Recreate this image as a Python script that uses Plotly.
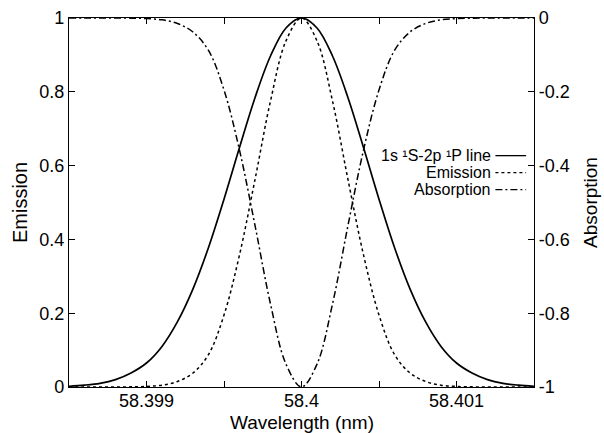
import plotly.graph_objects as go

# Wavelength grid (nm)
wavelength = [58.3985, 58.3986, 58.3987, 58.3988, 58.3989, 58.3990, 58.3991, 58.3992,
              58.3993, 58.3994, 58.3995, 58.3996, 58.3997, 58.3998, 58.3999, 58.4000,
              58.4001, 58.4002, 58.4003, 58.4004, 58.4005, 58.4006, 58.4007, 58.4008,
              58.4009, 58.4010, 58.4011, 58.4012, 58.4013, 58.4014, 58.4015]

# 1s 1S-2p 1P line profile (left axis)
line_profile = [0.002, 0.005, 0.010, 0.020, 0.038, 0.065, 0.110, 0.177, 0.266, 0.378,
                0.509, 0.649, 0.784, 0.897, 0.973, 1.000, 0.973, 0.897, 0.784, 0.649,
                0.509, 0.378, 0.266, 0.177, 0.110, 0.065, 0.038, 0.020, 0.010, 0.005, 0.002]

# Emission profile (left axis)
emission = [0.0, 0.0, 0.0, 0.0001, 0.0004, 0.0015, 0.005, 0.015, 0.038, 0.088,
            0.195, 0.358, 0.562, 0.775, 0.938, 1.0, 0.938, 0.775, 0.562, 0.358,
            0.195, 0.088, 0.038, 0.015, 0.005, 0.0015, 0.0004, 0.0001, 0.0, 0.0, 0.0]

# Absorption profile (right axis)
absorption = [0.0, 0.0, 0.0, -0.0001, -0.0004, -0.0015, -0.005, -0.015, -0.038, -0.088,
              -0.195, -0.358, -0.562, -0.775, -0.938, -1.0, -0.938, -0.775, -0.562, -0.358,
              -0.195, -0.088, -0.038, -0.015, -0.005, -0.0015, -0.0004, -0.0001, 0.0, 0.0, 0.0]

x_tickvals = [58.399, 58.3995, 58.4, 58.4005, 58.401]
x_ticktext = ["58.399", "", "58.4", "", "58.401"]
left_tickvals = [0, 0.2, 0.4, 0.6, 0.8, 1]
left_ticktext = ["0", "0.2", "0.4", "0.6", "0.8", "1"]
right_tickvals = [-1, -0.8, -0.6, -0.4, -0.2, 0]
right_ticktext = ["-1", "-0.8", "-0.6", "-0.4", "-0.2", "0"]

legend_labels = ["1s \u00b9S-2p \u00b9P line", "Emission", "Absorption"]
x_title = "Wavelength (nm)"

FONT = "Liberation Sans, Arial, Helvetica, sans-serif"
dashdot = "7px,3px,2px,3px"

fig = go.Figure()
fig.add_trace(go.Scatter(x=wavelength, y=line_profile, mode="lines", line_shape="spline",
                         line=dict(color="black", width=1.7), name=legend_labels[0],
                         showlegend=False))
fig.add_trace(go.Scatter(x=wavelength, y=emission, mode="lines", line_shape="spline",
                         line=dict(color="black", width=1.5, dash="3px,3px"),
                         name=legend_labels[1], showlegend=False))
fig.add_trace(go.Scatter(x=wavelength, y=absorption, mode="lines", line_shape="spline",
                         line=dict(color="black", width=1.5, dash=dashdot),
                         name=legend_labels[2], yaxis="y2", showlegend=False))

# Gnuplot-style key: right-aligned text with line sample to the right
key_y = [0.627, 0.581, 0.535]
key_dash = ["solid", "3px,3px", dashdot]
for lbl, yy, dsh in zip(legend_labels, key_y, key_dash):
    fig.add_annotation(x=0.911, y=yy, xref="paper", yref="paper", text=lbl,
                       showarrow=False, xanchor="right", yanchor="middle",
                       font=dict(family=FONT, size=16, color="black"))
    fig.add_shape(type="line", xref="paper", yref="paper", x0=0.917, x1=0.983,
                  y0=yy, y1=yy, line=dict(color="black", width=1.3, dash=dsh))

# x-axis title placed as an annotation below the tick labels
fig.add_annotation(x=0.5, y=0, xref="paper", yref="paper", text=x_title,
                   showarrow=False, xanchor="center", yanchor="middle", yshift=-35,
                   font=dict(family=FONT, size=19, color="black"))

axis_common = dict(showgrid=False, zeroline=False, linecolor="black", linewidth=1.2,
                   ticks="inside", ticklen=6, tickcolor="black", automargin=False,
                   tickfont=dict(family=FONT, size=18, color="black"))

fig.update_layout(
    width=604, height=433,
    margin=dict(l=69, r=70, t=18, b=46),
    plot_bgcolor="white", paper_bgcolor="white",
    xaxis=dict(range=[58.3985, 58.4015], tickvals=x_tickvals, ticktext=x_ticktext,
               mirror="ticks", showline=True, ticklabelstandoff=-3,
               **axis_common),
    yaxis=dict(range=[0, 1], tickvals=left_tickvals, ticktext=left_ticktext,
               showline=True,
               title=dict(text="Emission", font=dict(family=FONT, size=20, color="black"),
                          standoff=6),
               **axis_common),
    yaxis2=dict(range=[-1, 0], tickvals=right_tickvals, ticktext=right_ticktext,
                overlaying="y", side="right", showline=True,
                title=dict(text="Absorption", font=dict(family=FONT, size=19, color="black"),
                           standoff=14),
                **axis_common),
)

fig.write_html("out.html", config={"displayModeBar": False},
               post_script="document.body.style.margin='0';document.body.style.padding='0';")
